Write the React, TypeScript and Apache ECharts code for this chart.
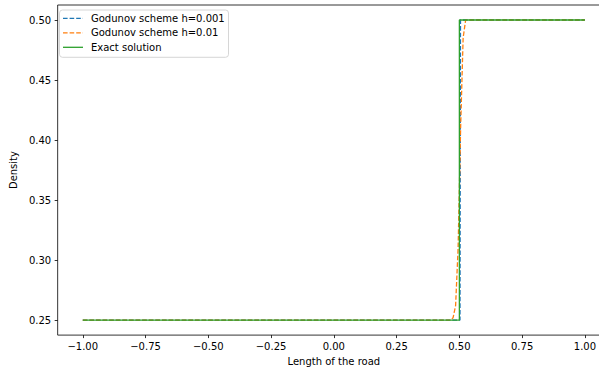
import React, { useEffect, useRef } from "react";
import * as echarts from "echarts";

const seriesNames = ["Godunov scheme h=0.001", "Godunov scheme h=0.01", "Exact solution"];
const colors = ["#1f77b4", "#ff7f0e", "#2ca02c"];

const fineX = [-1, 0.5025, 0.5035, 0.5045, 1];
const fineY = [0.25, 0.25, 0.37, 0.5, 0.5];

const coarseX = [-1, 0.465, 0.475, 0.485, 0.495, 0.505, 0.515, 0.525, 1];
const coarseY = [0.25, 0.25, 0.252, 0.262, 0.31, 0.41, 0.485, 0.5, 0.5];

const exactX = [-1, 0.5, 0.5, 1];
const exactY = [0.25, 0.25, 0.5, 0.5];

const xTicks = [-1, -0.75, -0.5, -0.25, 0, 0.25, 0.5, 0.75, 1];
const yTicks = [0.25, 0.3, 0.35, 0.4, 0.45, 0.5];

const FONT = "DejaVu Sans";
const DASH = [4.6, 2];

function fmt(v: number) {
  const s = Math.abs(v) < 1e-9 ? "0.00" : v.toFixed(2);
  return s.replace("-", "\u2212");
}

function pairs(xs: number[], ys: number[]) {
  return xs.map((x, i) => [x, ys[i]]);
}

export default function App() {
  const ref = useRef<HTMLDivElement>(null);
  useEffect(() => {
    if (!ref.current) return;
    const chart = echarts.init(ref.current, undefined, { renderer: "svg" });
    const datasets = [pairs(fineX, fineY), pairs(coarseX, coarseY), pairs(exactX, exactY)];

    const legendLeft = 59.5;
    const legendTop = 10;
    const rowH = 14.5;
    const legendChildren: any[] = [
      {
        type: "rect",
        shape: { x: legendLeft, y: legendTop, width: 169, height: 47.3, r: 3 },
        style: { fill: "rgba(255,255,255,0.8)", stroke: "#cccccc", lineWidth: 0.8 },
        z: 100,
      },
    ];
    seriesNames.forEach((name, i) => {
      const cy = 18.3 + i * rowH;
      legendChildren.push({
        type: "line",
        shape: { x1: 63, y1: cy, x2: 83, y2: cy },
        style: {
          stroke: colors[i],
          lineWidth: 1.3,
          lineDash: i < 2 ? DASH : null,
        },
        z: 101,
      });
      legendChildren.push({
        type: "text",
        x: 91,
        y: cy,
        style: {
          text: name,
          fontFamily: FONT,
          fontSize: 10,
          fill: "#000",
          verticalAlign: "middle",
          align: "left",
        },
        z: 101,
      });
    });

    chart.setOption({
      animation: false,
      backgroundColor: "#ffffff",
      grid: {
        left: 55,
        right: 2,
        top: 5,
        bottom: 35,
        show: true,
        borderColor: "#000",
        borderWidth: 0.8,
        backgroundColor: "transparent",
      },
      graphic: legendChildren,
      xAxis: {
        type: "value",
        min: -1.1,
        max: 1.1,
        name: "Length of the road",
        nameLocation: "middle",
        nameGap: 20,
        nameTextStyle: { fontFamily: FONT, fontSize: 10, color: "#000" },
        axisLine: { show: false, onZero: false },
        splitLine: { show: false },
        axisTick: {
          show: true,
          length: 3,
          customValues: xTicks,
          lineStyle: { color: "#000", width: 0.8 },
        },
        axisLabel: {
          customValues: xTicks,
          formatter: (v: number) => fmt(v),
          fontFamily: FONT,
          fontSize: 10,
          color: "#000",
          margin: 6,
        },
      },
      yAxis: {
        type: "value",
        min: 0.2375,
        max: 0.5125,
        name: "Density",
        nameLocation: "middle",
        nameRotate: 90,
        nameGap: 35,
        nameTextStyle: { fontFamily: FONT, fontSize: 10, color: "#000" },
        axisLine: { show: false, onZero: false },
        splitLine: { show: false },
        axisTick: {
          show: true,
          length: 3,
          customValues: yTicks,
          lineStyle: { color: "#000", width: 0.8 },
        },
        axisLabel: {
          customValues: yTicks,
          formatter: (v: number) => v.toFixed(2),
          fontFamily: FONT,
          fontSize: 10,
          color: "#000",
          margin: 6.5,
        },
      },
      series: seriesNames.map((name, i) => ({
        name,
        type: "line",
        data: datasets[i],
        symbol: "none",
        showSymbol: false,
        color: colors[i],
        lineStyle: {
          color: colors[i],
          width: 1.3,
          type: i < 2 ? DASH : "solid",
        },
        clip: true,
        z: 2 + i,
      })),
    });
    return () => chart.dispose();
  }, []);
  return (
    <div style={{ position: "fixed", left: 0, top: 0, width: 599, height: 371, overflow: "hidden", background: "#fff" }}>
      <div ref={ref} style={{ width: 612, height: 371 }} />
    </div>
  );
}
